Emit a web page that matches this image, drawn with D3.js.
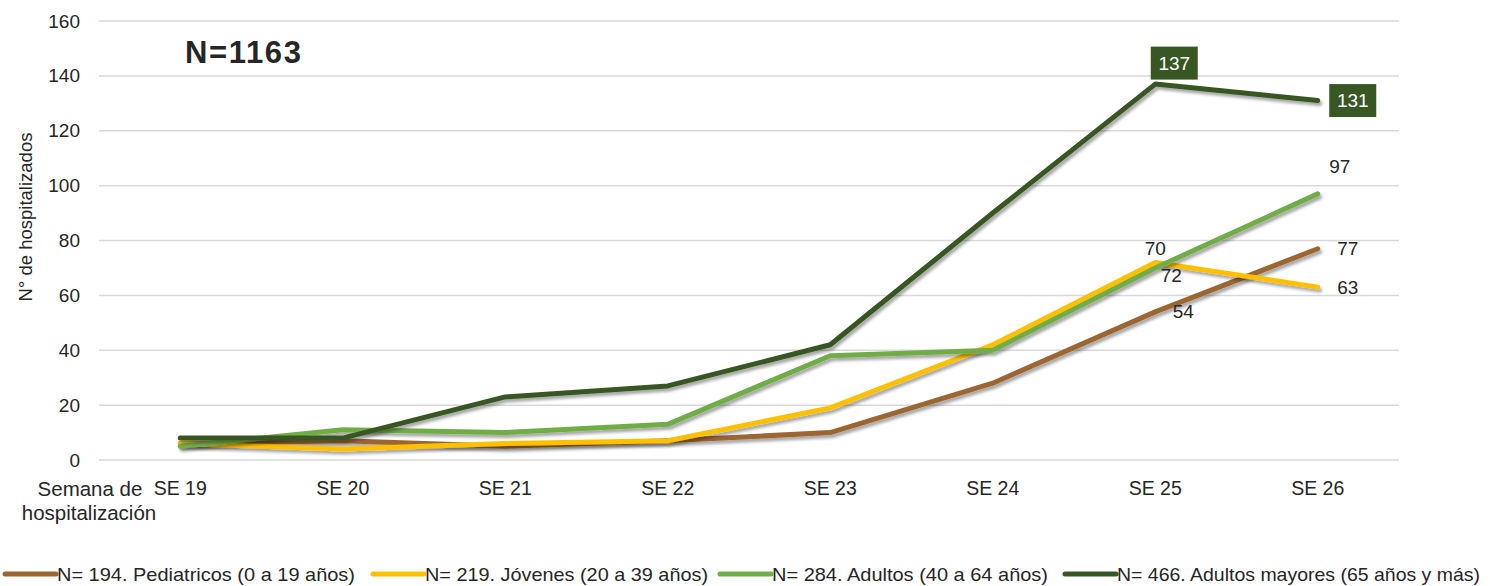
<!DOCTYPE html>
<html><head><meta charset="utf-8">
<script src="https://cdn.jsdelivr.net/npm/d3@7"></script>
<style>body{margin:0;background:#fff}svg{display:block}text{font-family:"Liberation Sans",Arial,sans-serif;fill:#262626}</style>
</head><body><svg id="c" width="1490" height="586"></svg>
<script>
const categories = ["SE 19","SE 20","SE 21","SE 22","SE 23","SE 24","SE 25","SE 26"];
const pediatricos = [6,7,5,7,10,28,54,77];
const jovenes = [6,4,6,7,19,42,72,63];
const adultos = [5,11,10,13,38,40,70,97];
const mayores = [8,8,23,27,42,90,137,131];
const seriesNames = ["N= 194. Pediatricos (0 a 19 años)","N= 219. Jóvenes (20 a 39 años)","N= 284. Adultos (40 a 64 años)","N= 466. Adultos mayores (65 años y más)"];
const seriesColors = ["#9C6632","#FFC000","#70AD47","#385723"];
const yTicks = [0,20,40,60,80,100,120,140,160];

const svg = d3.select("#c");
const x = d3.scaleBand().domain(categories).range([99,1399]);
const y = d3.scaleLinear().domain([0,160]).range([460,21]);
const cx = c => x(c) + x.bandwidth()/2;

const defs = svg.append("defs");
const f = defs.append("filter").attr("id","sh").attr("x","-5%").attr("y","-20%").attr("width","110%").attr("height","140%");
f.append("feGaussianBlur").attr("in","SourceAlpha").attr("stdDeviation",1.6);
f.append("feOffset").attr("dx",1.5).attr("dy",2.5).attr("result","o");
f.append("feComponentTransfer").append("feFuncA").attr("type","linear").attr("slope",0.35);
const m = f.append("feMerge"); m.append("feMergeNode"); m.append("feMergeNode").attr("in","SourceGraphic");

// gridlines
svg.append("g").selectAll("line").data(yTicks).join("line")
  .attr("x1",99).attr("x2",1399).attr("y1",d=>y(d)).attr("y2",d=>y(d))
  .attr("stroke","#d9d9d9").attr("stroke-width",1.5);

// y axis
const ya = svg.append("g").attr("transform","translate(99,0)").call(d3.axisLeft(y).tickValues(yTicks).tickSize(0).tickPadding(19));
ya.select(".domain").remove();
ya.selectAll("text").style("font-size","19px").style("font-family","'Liberation Sans',Arial,sans-serif").attr("fill","#262626");

// x axis
const xa = svg.append("g").attr("transform","translate(0,460)").call(d3.axisBottom(x).tickSize(0).tickPadding(21));
xa.select(".domain").remove();
xa.selectAll("text").style("font-size","19.5px").style("font-family","'Liberation Sans',Arial,sans-serif").attr("fill","#262626");

svg.append("text").attr("x",90).attr("y",496).attr("text-anchor","middle").style("font-size","20.5px").text("Semana de");
svg.append("text").attr("x",89).attr("y",520).attr("text-anchor","middle").style("font-size","20.5px").text("hospitalización");

svg.append("text").attr("transform","translate(32,217) rotate(-90)").attr("text-anchor","middle").style("font-size","18.5px").text("N° de hospitalizados");

svg.append("text").attr("x",185).attr("y",63).style("font-size","31px").style("font-weight","bold").style("font-family","'Liberation Sans',Arial,sans-serif").attr("fill","#000")
  .attr("textLength",116).attr("lengthAdjust","spacing").text("N=1163");

// lines
const data = [pediatricos, jovenes, adultos, mayores];
const line = d3.line().x((d,i)=>cx(categories[i])).y(d=>y(d));
svg.append("g").selectAll("path").data(data).join("path")
  .attr("d",line).attr("fill","none").attr("stroke",(d,i)=>seriesColors[i])
  .attr("stroke-width",5).attr("stroke-linejoin","round").attr("stroke-linecap","round").attr("filter","url(#sh)");

// data labels (plain)
const lblStyle = s => s.style("font-size","19px").attr("text-anchor","middle").attr("dominant-baseline","central");
const plain = [
  {s:0,c:"SE 25",dx:28,dy:0},{s:0,c:"SE 26",dx:30,dy:0},
  {s:1,c:"SE 25",dx:16,dy:13},{s:1,c:"SE 26",dx:30,dy:0},
  {s:2,c:"SE 25",dx:0,dy:-19},{s:2,c:"SE 26",dx:22,dy:-27}
];
svg.append("g").selectAll("text").data(plain).join("text")
  .attr("x",d=>cx(d.c)+d.dx).attr("y",d=>y(data[d.s][categories.indexOf(d.c)])+d.dy)
  .call(lblStyle).text(d=>data[d.s][categories.indexOf(d.c)]);

// boxed labels for mayores
const boxed = [{c:"SE 25",dx:19,dy:-21},{c:"SE 26",dx:35,dy:0}];
const bg = svg.append("g").selectAll("g").data(boxed).join("g")
  .attr("transform",d=>`translate(${cx(d.c)+d.dx},${y(mayores[categories.indexOf(d.c)])+d.dy})`);
bg.append("rect").attr("x",-23.5).attr("y",-16.5).attr("width",47).attr("height",33).attr("fill","#385723");
bg.append("text").call(lblStyle).attr("fill","#fff").style("fill","#fff").text(d=>mayores[categories.indexOf(d.c)]);

// legend
const legX = [5,373,720,1065];
const legW = [298,283,276,363];
const lg = svg.append("g").selectAll("g").data(seriesNames).join("g")
  .attr("transform",(d,i)=>`translate(${legX[i]},574)`);
lg.append("line").attr("x1",0).attr("x2",51).attr("stroke",(d,i)=>seriesColors[i]).attr("stroke-width",5).attr("stroke-linecap","round");
lg.append("text").attr("x",52).attr("dominant-baseline","central").style("font-size","19px")
  .style("font-family","'Liberation Sans Narrow','Liberation Sans',Arial,sans-serif")
  .attr("textLength",(d,i)=>legW[i]).attr("lengthAdjust","spacingAndGlyphs").text(d=>d);
</script></body></html>
